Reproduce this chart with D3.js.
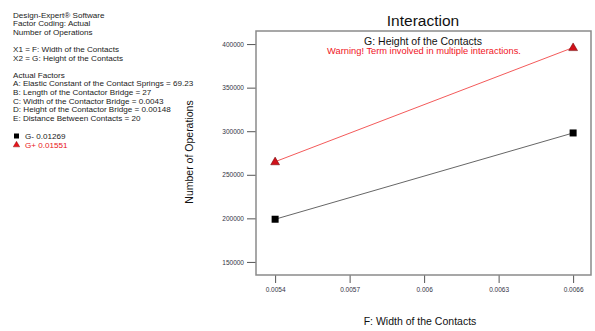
<!DOCTYPE html>
<html>
<head>
<meta charset="utf-8">
<script src="https://cdn.jsdelivr.net/npm/d3@7"></script>
<style>
  html,body{margin:0;padding:0;background:#fff;}
  svg{display:block;font-family:"Liberation Sans",Arial,sans-serif;}
</style>
</head>
<body>
<svg id="chart" width="595" height="331"></svg>
<script>
/* ---- data ---- */
const xLevels   = [0.0054, 0.0066];           // F: Width of the Contacts
const gMinus    = [199000, 298000];           // G- 0.01269
const gPlus     = [265000, 396000];           // G+ 0.01551
const xTicks    = [0.0054, 0.0057, 0.006, 0.0063, 0.0066];
const yTicks    = [150000, 200000, 250000, 300000, 350000, 400000];
const infoLines = [
  "Design-Expert® Software",
  "Factor Coding: Actual",
  "Number of Operations",
  "",
  "X1 = F: Width of the Contacts",
  "X2 = G: Height of the Contacts",
  "",
  "Actual Factors",
  "A: Elastic Constant of the Contact Springs = 69.23",
  "B: Length of the Contactor Bridge = 27",
  "C: Width of the Contactor Bridge = 0.0043",
  "D: Height of the Contactor Bridge = 0.00148",
  "E: Distance Between Contacts = 20"
];
const legendItems = [
  { label: "G- 0.01269", color: "#000", shape: "square" },
  { label: "G+ 0.01551", color: "#e8141b", shape: "triangle" }
];

const svg = d3.select("#chart");
const P = { l: 256, r: 591, t: 31, b: 275 };

const x = d3.scaleLinear().domain([0.005323, 0.006672]).range([P.l, P.r]);
const y = d3.scaleLinear().domain([135000, 415000]).range([P.b, P.t]);

/* ---- left info block ---- */
const info = svg.append("g").attr("font-size", 8.1).attr("fill", "#222");
infoLines.forEach((t, i) => {
  if (!t) return;
  info.append("text").attr("x", 13).attr("y", 17.6 + i * 8.6).text(t);
});
legendItems.forEach((d, i) => {
  const yy = 136 + i * 9;
  if (d.shape === "square") {
    svg.append("rect").attr("x", 14).attr("y", yy - 2.5).attr("width", 5).attr("height", 5).attr("fill", d.color);
  } else {
    svg.append("path").attr("d", d3.symbol(d3.symbolTriangle, 18)()).attr("transform", `translate(16.5,${yy})`)
      .attr("fill", d.color).attr("stroke", "#700").attr("stroke-width", 0.4);
  }
  svg.append("text").attr("x", 25).attr("y", yy + 3).attr("font-size", 8.1)
    .attr("fill", d.color === "#000" ? "#222" : d.color).text(d.label);
});

/* ---- titles ---- */
svg.append("text").attr("x", 423).attr("y", 26).attr("text-anchor", "middle")
  .attr("font-size", 15.5).attr("fill", "#111").text("Interaction");
svg.append("text").attr("x", 423).attr("y", 45).attr("text-anchor", "middle")
  .attr("font-size", 10.5).attr("fill", "#111").text("G: Height of the Contacts");
svg.append("text").attr("x", 424).attr("y", 53.8).attr("text-anchor", "middle")
  .attr("font-size", 9.3).attr("fill", "#f0141e").text("Warning! Term involved in multiple interactions.");

/* ---- axes ---- */
const yAxis = svg.append("g").attr("transform", `translate(${P.l},0)`)
  .call(d3.axisLeft(y).tickValues(yTicks).tickSize(9).tickPadding(3).tickFormat(d3.format("d")));
const xAxis = svg.append("g").attr("transform", `translate(0,${P.b})`)
  .call(d3.axisBottom(x).tickValues(xTicks).tickSize(8).tickPadding(4).tickFormat(d => String(d)));
[yAxis, xAxis].forEach(a => {
  a.select(".domain").remove();
  a.selectAll(".tick line").attr("stroke", "#555").attr("stroke-width", 1);
  a.selectAll(".tick text").attr("font-size", 6.5).attr("fill", "#334").attr("font-family", "Liberation Sans, Arial, sans-serif");
});

svg.append("rect").attr("x", P.l).attr("y", P.t).attr("width", P.r - P.l).attr("height", P.b - P.t)
  .attr("fill", "none").attr("stroke", "#8a8a8a").attr("stroke-width", 1.5);

svg.append("text").attr("transform", `translate(193,152) rotate(-90)`).attr("text-anchor", "middle")
  .attr("font-size", 10.5).attr("fill", "#111").text("Number of Operations");
svg.append("text").attr("x", 420).attr("y", 325).attr("text-anchor", "middle")
  .attr("font-size", 10.5).attr("fill", "#111").text("F: Width of the Contacts");

/* ---- series ---- */
const line = d3.line().x((d, i) => x(xLevels[i])).y(d => y(d));
svg.append("path").attr("d", line(gMinus)).attr("fill", "none").attr("stroke", "#555").attr("stroke-width", 0.9);
svg.append("path").attr("d", line(gPlus)).attr("fill", "none").attr("stroke", "#f03030").attr("stroke-width", 0.8);

svg.selectAll(".sq").data(gMinus).join("rect")
  .attr("x", (d, i) => x(xLevels[i]) - 3.5).attr("y", d => y(d) - 3.5)
  .attr("width", 7).attr("height", 7).attr("fill", "#000");
svg.selectAll(".tri").data(gPlus).join("path")
  .attr("d", d3.symbol(d3.symbolTriangle, 34)())
  .attr("transform", (d, i) => `translate(${x(xLevels[i])},${y(d) + 0.5})`)
  .attr("fill", "#d0101a").attr("stroke", "#600").attr("stroke-width", 0.5);
</script>
</body>
</html>
